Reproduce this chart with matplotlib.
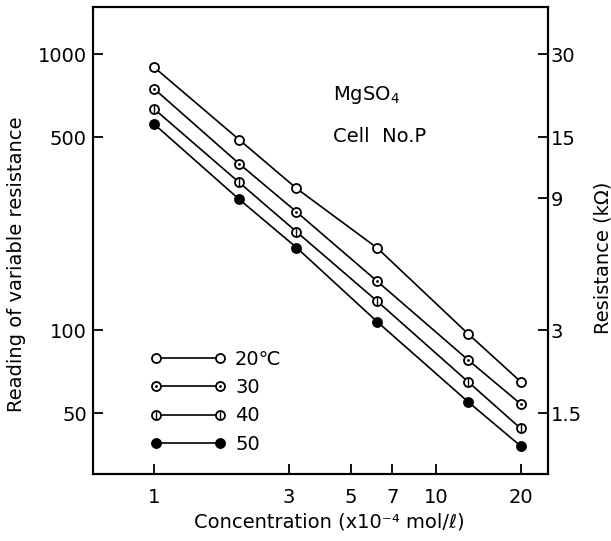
import matplotlib
matplotlib.use("Agg")
import matplotlib.pyplot as plt
from matplotlib.lines import Line2D
from matplotlib.ticker import FixedLocator, FixedFormatter, NullLocator

# ---- data ----
concentration = [1, 2, 3.2, 6.2, 13, 20]          # x10^-4 mol/l
r20 = [895, 490, 326, 198, 97, 65]
r30 = [748, 401, 268, 150, 78, 54]
r40 = [632, 343, 227, 127, 65, 44]
r50 = [557, 298, 199, 107, 55, 38]
series_labels = ["20℃", "30", "40", "50"]

x_ticks = [1, 3, 5, 7, 10, 20]
y_ticks = [50, 100, 500, 1000]
right_tick_pos = [50, 100, 300, 500, 1000]
right_tick_labels = ["1.5", "3", "9", "15", "30"]

plt.rcParams['font.family'] = ['DejaVu Sans']
FS = 14

fig = plt.figure(figsize=(6.11, 5.41), dpi=100)
ax = fig.add_axes([92.5/611, 1-474/541, (548-92.5)/611, (474-7)/541])
ax.set_xscale('log')
ax.set_yscale('log')
ax.set_xlim(0.604, 25.0)
ax.set_ylim(30.1, 1480)

lw = 1.2
ms = 6.5
mew = 1.3

def base(color_face):
    return dict(color='black', lw=lw, marker='o', ms=ms, mew=mew,
                mfc=color_face, mec='black')

ax.plot(concentration, r20, **base('white'))
ax.plot(concentration, r30, **base('white'))
ax.plot(concentration, r30, ls='none', marker='o', ms=2.0, mfc='black', mec='black', mew=0)
ax.plot(concentration, r40, **base('white'))
ax.plot(concentration, r40, ls='none', marker='|', ms=6.0, mec='black', mew=1.0)
ax.plot(concentration, r50, **base('black'))

# legend handles
h20 = Line2D([], [], **base('white'))
h30 = (Line2D([], [], **base('white')),
       Line2D([], [], ls='none', marker='o', ms=2.0, mfc='black', mec='black', mew=0))
h40 = (Line2D([], [], **base('white')),
       Line2D([], [], ls='none', marker='|', ms=6.0, mec='black', mew=1.0))
h50 = Line2D([], [], **base('black'))
leg = ax.legend([h20, h30, h40, h50], series_labels, loc='upper left',
                bbox_to_anchor=(0.126, 0.266), frameon=False, numpoints=2,
                handlelength=3.88, handletextpad=0.5, labelspacing=0.48,
                borderpad=0, borderaxespad=0, fontsize=FS)

# axes ticks
ax.xaxis.set_major_locator(FixedLocator(x_ticks))
ax.xaxis.set_major_formatter(FixedFormatter([str(v) for v in x_ticks]))
ax.xaxis.set_minor_locator(NullLocator())
ax.yaxis.set_major_locator(FixedLocator(y_ticks))
ax.yaxis.set_major_formatter(FixedFormatter([str(v) for v in y_ticks]))
ax.yaxis.set_minor_locator(NullLocator())
ax.tick_params(axis='x', direction='in', length=7, width=1.3, pad=10, labelsize=FS, top=False)
ax.tick_params(axis='y', direction='in', length=7, width=1.3, pad=4, labelsize=FS, right=False)

ax2 = ax.twinx()
ax2.set_yscale('log')
ax2.set_ylim(ax.get_ylim())
ax2.yaxis.set_major_locator(FixedLocator(right_tick_pos))
ax2.yaxis.set_major_formatter(FixedFormatter(right_tick_labels))
ax2.yaxis.set_minor_locator(NullLocator())
ax2.tick_params(axis='y', direction='in', length=7, width=1.3, pad=2, labelsize=FS)

for a in (ax, ax2):
    for s in a.spines.values():
        s.set_linewidth(1.5)

# labels
fig.text(17/611, 1-264/541, "Reading of variable resistance", rotation=90,
         ha='center', va='center', fontsize=FS)
fig.text(603/611, 1-258/541, "Resistance (kΩ)", rotation=90,
         ha='center', va='center', fontsize=FS)
fig.text(329/611, 1-522/541, "Concentration (x10⁻⁴ mol/ℓ)",
         ha='center', va='center', fontsize=FS)

# annotations
fig.text(333/611, 1-95/541, "MgSO$_4$", ha='left', va='center', fontsize=FS)
fig.text(333/611, 1-136/541, "Cell  No.P", ha='left', va='center', fontsize=FS)

fig.savefig("out.png", dpi=100)
